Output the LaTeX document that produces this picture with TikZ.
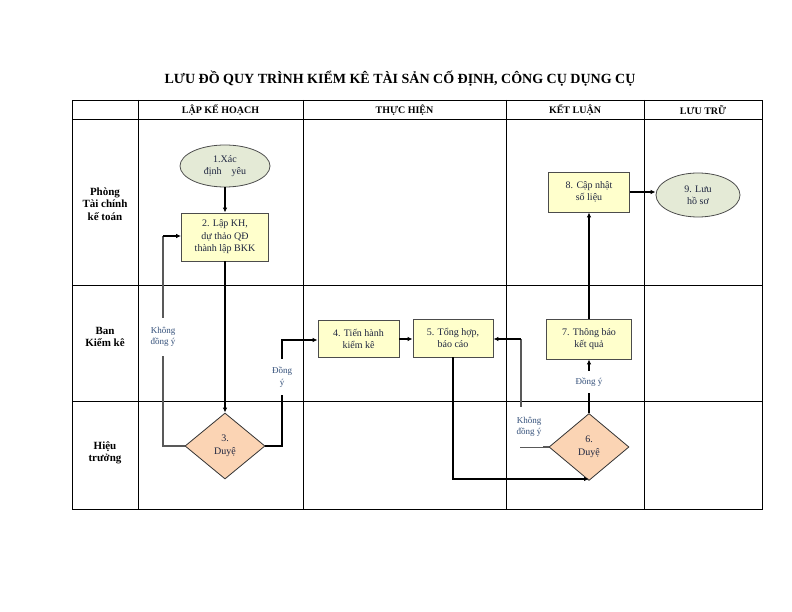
\documentclass[tikz,border=0pt]{standalone}
\usepackage{fontspec}
\setmainfont{Liberation Serif}
\usetikzlibrary{shapes.geometric,arrows.meta}
\definecolor{txt}{HTML}{1F2640}
\definecolor{lbl}{HTML}{34507A}
\definecolor{ellfill}{HTML}{E4EAD6}
\definecolor{boxfill}{HTML}{FFFFCC}
\definecolor{diafill}{HTML}{FBD4B4}
\tikzset{
  grid/.style={line width=0.9pt,black},
  conn/.style={line width=1.2pt,black,-{Latex[length=5pt,width=4.5pt]}},
  gline/.style={line width=1.1pt,black!65},
  headtxt/.style={font=\bfseries\fontsize{10}{11}\selectfont},
  lanetxt/.style={font=\bfseries\fontsize{11}{12.5}\selectfont,align=center},
  proc/.style={draw=black!70,line width=0.8pt,fill=boxfill,align=center,text=txt,
    font=\fontsize{10}{12.5}\selectfont,inner sep=0pt},
  term/.style={ellipse,draw=black!70,line width=0.8pt,fill=ellfill,align=center,text=txt,
    font=\fontsize{10}{12.5}\selectfont,inner sep=0pt},
  dec/.style={diamond,draw=black!80,line width=0.8pt,fill=diafill,align=center,text=txt,
    font=\fontsize{10}{12.5}\selectfont,inner sep=0pt},
  edgelbl/.style={fill=white,text=lbl,font=\fontsize{9}{11.5}\selectfont,align=center,inner sep=1.5pt}
}
\begin{document}
\begin{tikzpicture}[x=1pt,y=-1pt]
\useasboundingbox (0,0) rectangle (792,612);
% title
\node[font=\bfseries\fontsize{14}{16}\selectfont] (title) at (400,79) {LƯU ĐỒ QUY TRÌNH KIỂM KÊ TÀI SẢN CỐ ĐỊNH, CÔNG CỤ DỤNG CỤ};
% table
\draw[grid] (72,100) rectangle (762,509);
\foreach \x in {138,303,506,644} \draw[grid] (\x,100) -- (\x,509);
\foreach \y in {119,285,401} \draw[grid] (72,\y) -- (762,\y);
% headers
\node[headtxt] (h1) at (220.5,110) {LẬP KẾ HOẠCH};
\node[headtxt] (h2) at (404.5,110) {THỰC HIỆN};
\node[headtxt] (h3) at (575,110) {KẾT LUẬN};
\node[headtxt] (h4) at (703,110) {LƯU TRỮ};
% lanes
\node[lanetxt] (l1) at (105,204) {Phòng\\Tài chính\\kế toán};
\node[lanetxt] (l2) at (105,337) {Ban\\Kiểm kê};
\node[lanetxt] (l3) at (105,453) {Hiệu\\trưởng};
% nodes
\node[term,minimum width=90pt,minimum height=42pt] (n1) at (225,166) {1.Xác\\định\quad yêu};
\node[proc,minimum width=87pt,minimum height=48pt] (n2) at (225,237) {2. Lập KH,\\dự thảo QĐ\\thành lập BKK};
\node[dec,minimum width=80pt,minimum height=66pt,aspect=1.2] (n3) at (225,446) {3.\\Duyệ};
\node[proc,minimum width=81pt,minimum height=37pt] (n4) at (358.5,339) {4. Tiến hành\\kiểm kê};
\node[proc,minimum width=80pt,minimum height=38pt] (n5) at (453,338) {5. Tổng hợp,\\báo cáo};
\node[dec,minimum width=80pt,minimum height=67pt,aspect=1.2] (n6) at (589,447) {6.\\Duyệ};
\node[proc,minimum width=85pt,minimum height=40pt] (n7) at (589,339) {7. Thông báo\\kết quả};
\node[proc,minimum width=81pt,minimum height=40pt] (n8) at (589,192) {8. Cập nhật\\số liệu};
\node[term,minimum width=84pt,minimum height=44pt] (n9) at (698,195) {9. Lưu\\hồ sơ};
% helper coordinates
\coordinate (c3l) at (163,446);
\coordinate (c2l) at (163,236);
\coordinate (c3r) at (282,446);
\coordinate (c4l) at (282,340);
\coordinate (c5b) at (453,479);
\coordinate (c6b) at (589,479);
\coordinate (c6l) at (521,447);
\coordinate (c5r) at (521,339);
% connectors
\draw[conn] (n1.south) -- (n2.north);
\draw[conn] (n2.south) -- (n3.north);
\draw[gline] (n3.west) -- (c3l) -- (c2l);
\draw[conn] (c2l) -- (c2l -| n2.west);
\node[edgelbl,minimum height=38pt] (k1) at (163,337) {Không\\đồng ý};
\draw[conn] (n3.east) -- (c3r) -- (c4l) -- (c4l -| n4.west);
\node[edgelbl,minimum height=36pt] (d1) at (282,377) {Đồng\\ý};
\draw[conn] (n4.east) -- (n4.east -| n5.west);
\draw[conn] (n5.south) -- (c5b) -- (c6b);
\draw[gline] (n6.west) -- (c6l) -- (c5r);
\draw[conn] (c5r) -- (c5r -| n5.east);
\node[edgelbl,minimum height=40pt] (k2) at (529,427) {Không\\đồng ý};
\draw[conn] (n6.north) -- (n7.south);
\node[edgelbl,minimum height=22pt] (d2) at (589,382) {Đồng ý};
\draw[conn] (n7.north) -- (n8.south);
\draw[conn] (n8.east) -- (n8.east -| n9.west);
\end{tikzpicture}
\end{document}
